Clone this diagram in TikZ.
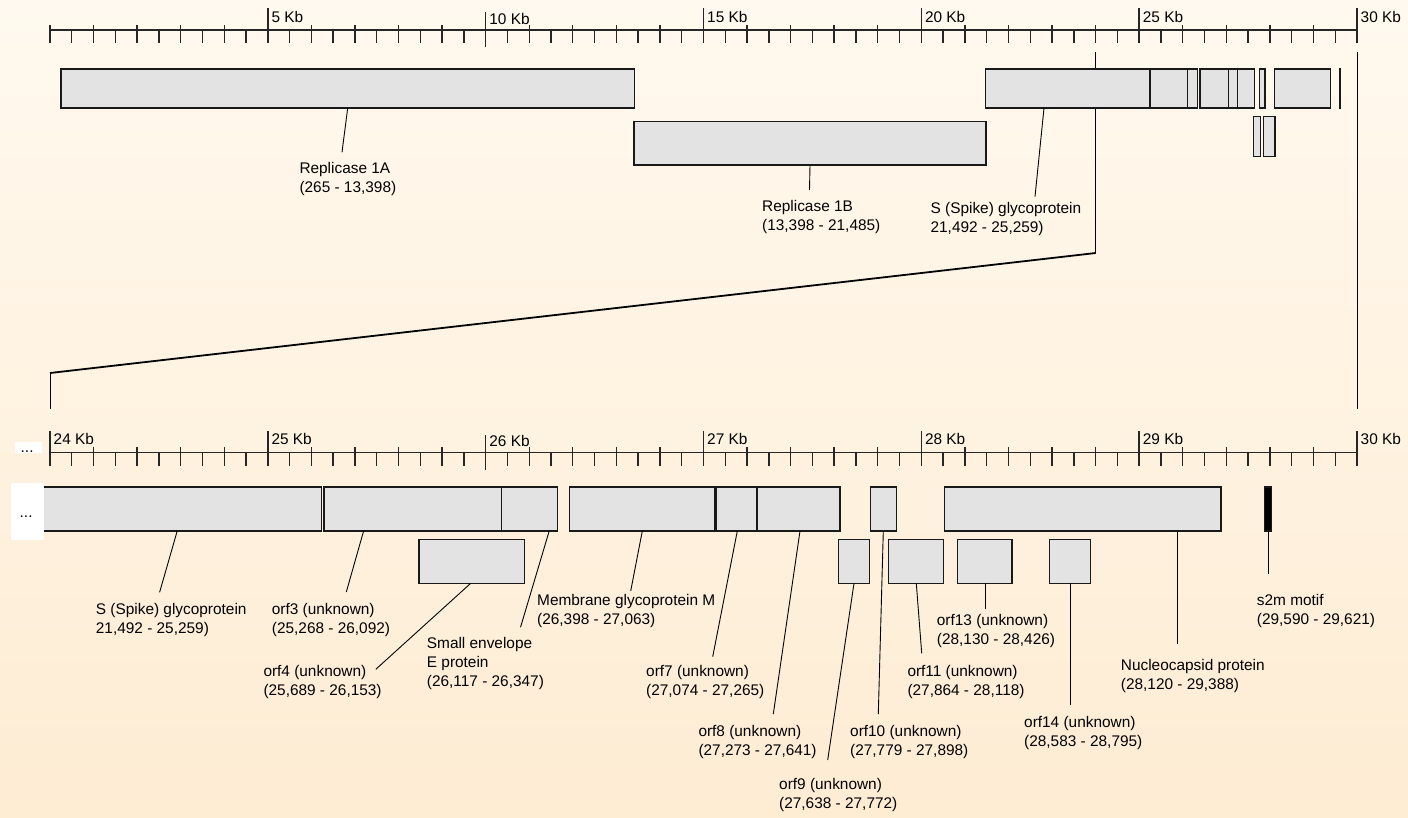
\documentclass[tikz,border=0pt]{standalone}
\usepackage{fontspec}
\setmainfont{Liberation Sans}
\definecolor{bgtop}{RGB}{255,249,239}
\definecolor{bgbot}{RGB}{254,236,211}
\definecolor{boxgray}{RGB}{227,227,227}
\newcommand{\genefont}{\fontsize{15.4}{18.7}\selectfont}

\begin{document}
\begin{tikzpicture}[x=1pt, y=-1pt,
    gene/.style={draw=black!90, line width=1.4pt, fill=boxgray, inner sep=0pt, outer sep=0pt, anchor=north west},
    toprow/.style={gene, minimum height=39},
    row/.style={gene, minimum height=44},
    motif/.style={row, fill=black},
    lab/.style={anchor=north west, align=left, inner sep=0pt, font=\genefont},
    kb/.style={anchor=base west, inner sep=0pt, font=\genefont},
    lead/.style={line width=0.9pt},
    axis/.style={line width=1.4pt, black!85}]

    \useasboundingbox (0,0) rectangle (1408,817);
    \shade[top color=bgtop, bottom color=bgbot] (0,0) rectangle (1408,817);

    \foreach \y in {30,452.3} {
        \draw[axis] (50,\y) -- (1357,\y);
        \foreach \i in {0,...,60} {
            \pgfmathsetmacro\tx{50+\i*21.783}
            \ifodd\i
                \draw[axis] (\tx,\y) -- ++(0,13.3);
            \else
                \draw[axis] (\tx,\y-5) -- ++(0,18.3);
            \fi
        }
    }
    \foreach \i/\k/\d in {10/5/0,20/10/4,30/15/0,40/20/0,50/25/0,60/30/0} {
        \draw[axis] (50+\i*21.783,8+\d) -- ++(0,35.3);
        \node[kb] (kbt\k) at (53.5+\i*21.783,22.7+\d/2) {\k\ Kb};
    }
    \foreach \i/\k/\d in {0/24/0,10/25/0,20/26/4,30/27/0,40/28/0,50/29/0,60/30/0} {
        \draw[axis] (50+\i*21.783,431+\d) -- ++(0,34.7);
        \node[kb] (kbb\k) at (53.5+\i*21.783,444.3+\d/2) {\k\ Kb};
    }

    \draw[line width=1pt] (1095.7,52) -- (1095.7,253);
    \draw[line width=1pt] (1357,52) -- (1357,409);
    \draw[line width=1.8pt] (1095.7,253) -- (50,373);
    \draw[line width=1pt] (50,373) -- (50,409);

    \node[toprow, minimum width=573.3] (b1A) at (61,69) {};
    \node[gene, minimum width=352, minimum height=43.3] (b1B) at (634,121.7) {};
    \node[toprow, minimum width=164.3] (bSt) at (985.7,69) {};
    \node[toprow, minimum width=37.3] (bo3t) at (1150,69) {};
    \node[toprow, minimum width=10] (bEt) at (1187.3,69) {};
    \node[toprow, minimum width=28.7] (bMt) at (1200,69) {};
    \node[toprow, minimum width=9] (bo7t) at (1228.7,69) {};
    \node[toprow, minimum width=16.6] (bo8t) at (1237.7,69) {};
    \node[toprow, minimum width=5.7] (bo10t) at (1259.3,69) {};
    \node[toprow, minimum width=56] (bNt) at (1274.3,69) {};
    \node[toprow, fill=black, minimum width=0.3] (bs2mt) at (1339.5,69) {};
    \node[gene, minimum width=7.4, minimum height=40] (bo9t) at (1253.3,116.7) {};
    \node[gene, minimum width=11.3, minimum height=40] (bo11t) at (1263.7,116.7) {};

    \node[lab] (l1A) at (299.3,162.5) {Replicase 1A\\(265 - 13,398)};
    \node[lab] (l1B) at (762,200.3) {Replicase 1B\\(13,398 - 21,485)};
    \node[lab] (lSt) at (930.4,202) {S (Spike) glycoprotein\\21,492 - 25,259)};
    \draw[lead] ([xshift=286.7]b1A.south west) -- ([xshift=42.7,yshift=10.2]l1A.north west);
    \draw[lead] ([xshift=176]b1B.south west) -- ([xshift=47.5,yshift=10.3]l1B.north west);
    \draw[lead] ([xshift=58.3]bSt.south west) -- ([xshift=104.6,yshift=5.3]lSt.north west);

    \node[row, minimum width=291.7] (bS) at (30,487) {};
    \node[row, minimum width=178.7] (bo3) at (324,487) {};
    \node[row, minimum width=56.2] (bE) at (501.5,487) {};
    \node[row, minimum width=145.3] (bM) at (569.7,487) {};
    \node[row, minimum width=41.6] (bo7) at (716.7,487) {};
    \node[row, minimum width=82.9] (bo8) at (757.1,487) {};
    \node[row, minimum width=26.4] (bo10) at (870.3,487) {};
    \node[row, minimum width=276.7] (bN) at (944.3,487) {};
    \node[motif, minimum width=7.4] (bs2m) at (1264.3,487) {};
    \node[row, minimum width=105.3] (bo4) at (419,539.3) {};
    \node[row, minimum width=30.6] (bo9) at (838.7,539.3) {};
    \node[row, minimum width=54.6] (bo11) at (888.7,539.3) {};
    \node[row, minimum width=54.7] (bo13) at (957.3,539.3) {};
    \node[row, minimum width=40.6] (bo14) at (1049.7,539.3) {};

    \node[lab] (lS) at (95.7,603.3) {S (Spike) glycoprotein\\21,492 - 25,259)};
    \node[lab] (lo3) at (271.7,603.3) {orf3 (unknown)\\(25,268 - 26,092)};
    \node[lab] (lo4) at (263.3,665) {orf4 (unknown)\\(25,689 - 26,153)};
    \node[lab] (lE) at (426.7,637.6) {Small envelope\\E protein\\(26,117 - 26,347)};
    \node[lab] (lM) at (537,594.3) {Membrane glycoprotein M\\(26,398 - 27,063)};
    \node[lab] (lo7) at (646,665) {orf7 (unknown)\\(27,074 - 27,265)};
    \node[lab] (lo8) at (698.3,725) {orf8 (unknown)\\(27,273 - 27,641)};
    \node[lab] (lo9) at (779,778.3) {orf9 (unknown)\\(27,638 - 27,772)};
    \node[lab] (lo10) at (850,725) {orf10 (unknown)\\(27,779 - 27,898)};
    \node[lab] (lo11) at (907.3,665) {orf11 (unknown)\\(27,864 - 28,118)};
    \node[lab] (lo13) at (936.7,614.3) {orf13 (unknown)\\(28,130 - 28,426)};
    \node[lab] (lo14) at (1024,716) {orf14 (unknown)\\(28,583 - 28,795)};
    \node[lab] (lN) at (1120.7,659.3) {Nucleocapsid protein\\(28,120 - 29,388)};
    \node[lab] (ls2m) at (1256.7,594.3) {s2m motif\\(29,590 - 29,621)};

    \draw[lead] ([xshift=147.2]bS.south west) -- ([xshift=63.9,yshift=11]lS.north west);
    \draw[lead] ([xshift=39.6]bo3.south west) -- ([xshift=74.6,yshift=11.3]lo3.north west);
    \draw[lead] ([xshift=51.7]bo4.south west) -- ([xshift=112.5,yshift=-4.3]lo4.north west);
    \draw[lead] ([xshift=47.7]bE.south west) -- ([xshift=93.8,yshift=10.3]lE.north west);
    \draw[lead] ([xshift=72.6]bM.south west) -- ([xshift=93.7,yshift=3.3]lM.north west);
    \draw[lead] ([xshift=20.6]bo7.south west) -- ([xshift=66.7,yshift=8.3]lo7.north west);
    \draw[lead] ([xshift=42.9]bo8.south west) -- ([xshift=75,yshift=11]lo8.north west);
    \draw[lead] ([xshift=15.3]bo9.south west) -- ([xshift=48.7,yshift=18.3]lo9.north west);
    \draw[lead] ([xshift=13]bo10.south west) -- ([xshift=28.3,yshift=11]lo10.north west);
    \draw[lead] ([xshift=27.6]bo11.south west) -- ([xshift=14.4,yshift=11.7]lo11.north west);
    \draw[lead] ([xshift=27.7]bo13.south west) -- ([xshift=48.3,yshift=5]lo13.north west);
    \draw[lead] ([xshift=20.3]bo14.south west) -- ([xshift=46,yshift=10.7]lo14.north west);
    \draw[lead] ([xshift=233]bN.south west) -- ([xshift=56.6,yshift=15]lN.north west);
    \draw[lead] (bs2m.south) -- ([xshift=11.3,yshift=20]ls2m.north west);

    \fill[white] (15,441.7) rectangle (41.7,452.7);
    \fill[white] (11,483) rectangle (44,540);
    \node[kb] (dots1) at (20.5,452) {...};
    \node[kb] (dots2) at (19.5,517.5) {...};
\end{tikzpicture}
\end{document}
